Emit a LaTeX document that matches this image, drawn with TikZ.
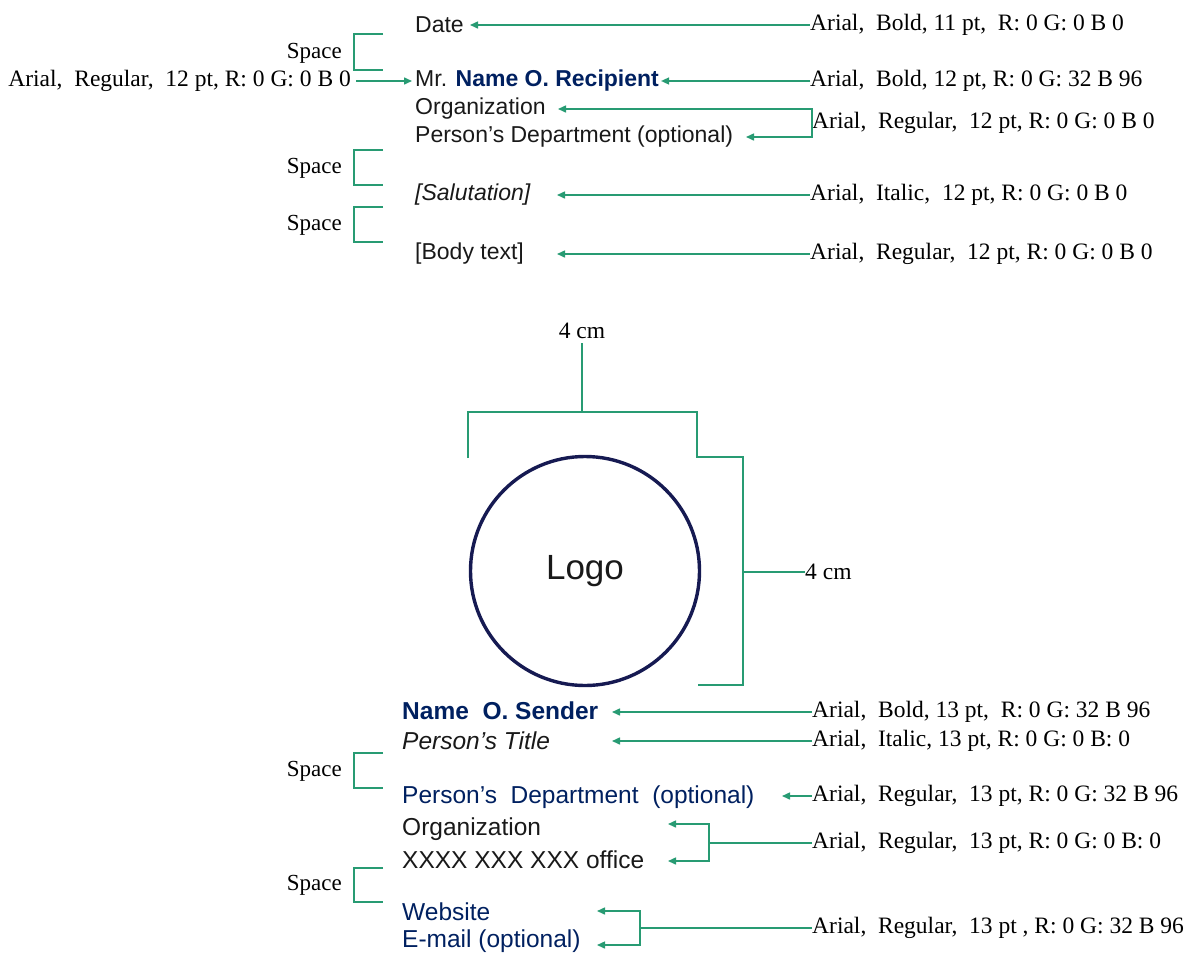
\documentclass[tikz,border=0pt]{standalone}
\usepackage{fontspec}
\setmainfont{Liberation Serif}
\newfontfamily\arial{Liberation Sans}
\usetikzlibrary{arrows.meta,calc}
\definecolor{navy}{RGB}{0,32,96}
\definecolor{ring}{RGB}{22,26,82}
\definecolor{lgreen}{RGB}{40,155,115}
\definecolor{ink}{RGB}{25,25,25}
\tikzset{
  txt/.style={anchor=west, inner sep=0pt, text=ink, font=\arial\fontsize{23}{27}\selectfont},
  txtb/.style={anchor=west, inner sep=0pt, text=ink, font=\arial\fontsize{24.5}{29}\selectfont},
  lab/.style={anchor=west, inner sep=0pt, text=black, font=\fontsize{23.5}{27}\selectfont},
  spc/.style={anchor=east, inner sep=0pt, text=black, font=\fontsize{23}{27}\selectfont},
  ln/.style={draw=lgreen, line width=1.5pt},
  arr/.style={draw=lgreen, line width=1.5pt, -{Triangle[length=8pt,width=7pt]}},
}
\begin{document}
\begin{tikzpicture}[x=1pt,y=-1pt]
\useasboundingbox (0,0) rectangle (1189,956);
% ---------- top: recipient block ----------
\node[txt] (date) at (415,25) {Date};
\node[txt] (recip) at (415,81) {Mr. {\bfseries\color{navy}Name O. Recipient}};
\node[txt] (org1) at (415,109) {Organization};
\node[txt] (dept1) at (415,137) {Person’s Department (optional)};
\node[txt, font=\arial\itshape\fontsize{23}{27}\selectfont] (salut) at (415,195) {[Salutation]};
\node[txt] (body) at (415,254) {[Body text]};

\node[lab] (l1) at (810,25) {Arial,\ \ Bold, 11 pt,\ \ R: 0 G: 0 B 0};
\node[lab] (l2) at (810,81) {Arial,\ \ Bold, 12 pt, R: 0 G: 32 B 96};
\node[lab] (l3) at (812,123) {Arial,\ \ Regular,\ \ 12 pt, R: 0 G: 0 B 0};
\node[lab] (l4) at (810,195) {Arial,\ \ Italic,\ \ 12 pt, R: 0 G: 0 B 0};
\node[lab] (l5) at (810,254) {Arial,\ \ Regular,\ \ 12 pt, R: 0 G: 0 B 0};
\node[lab, anchor=east] (l0) at (351,81) {Arial,\ \ Regular,\ \ 12 pt, R: 0 G: 0 B 0};

\node[spc] (sp1) at (342,53) {Space};
\node[spc] (sp2) at (342,168) {Space};
\node[spc] (sp3) at (342,225) {Space};
\draw[ln] (383,34) -| (354,70) -- (383,70);
\draw[ln] (383,150) -| (354,185) -- (383,185);
\draw[ln] (383,207) -| (354,242) -- (383,242);

\coordinate (t1) at (470,25);
\coordinate (t3a) at (558,109);
\coordinate (t3b) at (746,137);
\coordinate (t4) at (557,195);
\coordinate (t5) at (557,254);
\draw[arr] (l1.west) -- (t1);
\draw[arr, shorten <=5pt, shorten >=3pt] (l0.east) -- (recip.west);
\draw[arr, shorten >=2pt] (l2.west) -- (recip.east);
\draw[arr] (l3.west) |- (t3a);
\draw[arr] (l3.west) |- (t3b);
\draw[arr] (l4.west) -- (t4);
\draw[arr] (l5.west) -- (t5);

% ---------- middle: logo ----------
\node[circle, draw=ring, line width=3.4pt, minimum size=229pt, inner sep=0pt,
      text=ink, font=\arial\fontsize{35}{40}\selectfont] (logo) at (585,571) {Logo};
\node[lab, anchor=base] (w4) at (582,338) {4 cm};
\coordinate (wt) at (582,412);
\draw[ln] ([yshift=-5pt]w4.south) -- (wt);
\draw[ln] (468,458) |- (697,412) |- (743,457) |- (698,685);
\coordinate (hj) at (743,572);
\node[lab] (h4) at (805,572) {4 cm};
\draw[ln] (hj) -- (h4.west);

% ---------- bottom: sender block ----------
\node[txtb, font=\arial\bfseries\fontsize{24.5}{29}\selectfont, text=navy] (sender) at (402,711) {Name\ \ O.\ Sender};
\node[txtb, font=\arial\itshape\fontsize{24.5}{29}\selectfont] (title) at (402,741) {Person’s Title};
\node[txtb, text=navy] (dept2) at (402,797) {Person’s\ \ Department\ \ (optional)};
\node[txtb] (org2) at (402,829) {Organization};
\node[txtb] (office) at (402,860) {XXXX XXX XXX office};
\node[txtb, text=navy] (web) at (402,912) {Website};
\node[txtb, text=navy] (email) at (402,941) {E-mail (optional)};

\node[lab] (m1) at (812,712) {Arial,\ \ Bold, 13 pt,\ \ R: 0 G: 32 B 96};
\node[lab] (m2) at (812,741) {Arial,\ \ Italic, 13 pt, R: 0 G: 0 B: 0};
\node[lab] (m3) at (812,796) {Arial,\ \ Regular,\ \ 13 pt, R: 0 G: 32 B 96};
\node[lab] (m4) at (812,843) {Arial,\ \ Regular,\ \ 13 pt, R: 0 G: 0 B: 0};
\node[lab] (m5) at (812,928) {Arial,\ \ Regular,\ \ 13 pt , R: 0 G: 32 B 96};

\node[spc] (sp4) at (342,771) {Space};
\node[spc] (sp5) at (342,885) {Space};
\draw[ln] (383,753) -| (354,788) -- (383,788);
\draw[ln] (383,868) -| (354,902) -- (383,902);

\coordinate (u1) at (612,712);
\coordinate (u2) at (612,741);
\coordinate (u3) at (782,796);
\coordinate (j4) at (709,843);
\coordinate (u4a) at (668,824);
\coordinate (u4b) at (668,861);
\coordinate (j5) at (640,928);
\coordinate (u5a) at (597,911);
\coordinate (u5b) at (597,945);
\draw[arr] (m1.west) -- (u1);
\draw[arr] (m2.west) -- (u2);
\draw[arr] (m3.west) -- (u3);
\draw[ln] (m4.west) -- (j4);
\draw[arr] (j4) |- (u4a);
\draw[arr] (j4) |- (u4b);
\draw[ln] (m5.west) -- (j5);
\draw[arr] (j5) |- (u5a);
\draw[arr] (j5) |- (u5b);
\end{tikzpicture}
\end{document}
